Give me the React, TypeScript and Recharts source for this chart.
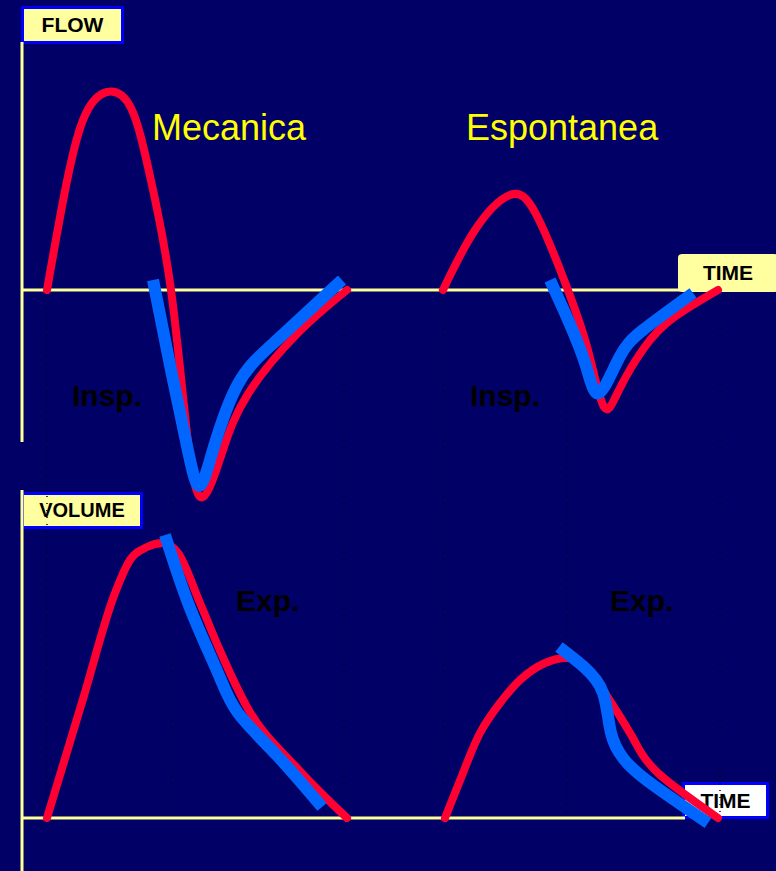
import { Line, LineChart, ReferenceLine, XAxis, YAxis } from "recharts"

// time in seconds, flow in L/s, volume in L
const mechFlowRed = [
  { t: 0, f: 0 },
  { t: 0.085, f: 0.47 },
  { t: 0.18, f: 0.85 },
  { t: 0.3, f: 0.99 },
  { t: 0.42, f: 0.91 },
  { t: 0.515, f: 0.57 },
  { t: 0.62, f: 0 },
  { t: 0.705, f: -0.76 },
  { t: 0.78, f: -1.035 },
  { t: 0.88, f: -0.8 },
  { t: 1.005, f: -0.52 },
  { t: 1.25, f: -0.22 },
  { t: 1.5, f: 0 },
]

const mechFlowBlue = [
  { t: 0.53, f: 0.05 },
  { t: 0.62, f: -0.4 },
  { t: 0.7, f: -0.78 },
  { t: 0.76, f: -0.98 },
  { t: 0.83, f: -0.8 },
  { t: 0.955, f: -0.47 },
  { t: 1.15, f: -0.25 },
  { t: 1.475, f: 0.05 },
]

const spontFlowRed = [
  { t: 1.98, f: 0 },
  { t: 2.14, f: 0.3 },
  { t: 2.315, f: 0.475 },
  { t: 2.45, f: 0.37 },
  { t: 2.61, f: -0.015 },
  { t: 2.71, f: -0.32 },
  { t: 2.785, f: -0.585 },
  { t: 2.86, f: -0.5 },
  { t: 2.985, f: -0.29 },
  { t: 3.13, f: -0.14 },
  { t: 3.355, f: 0 },
]

const spontFlowBlue = [
  { t: 2.515, f: 0.05 },
  { t: 2.61, f: -0.16 },
  { t: 2.695, f: -0.38 },
  { t: 2.76, f: -0.515 },
  { t: 2.86, f: -0.34 },
  { t: 2.98, f: -0.2 },
  { t: 3.23, f: -0.015 },
]

const mechVolRed = [
  { t: 0, v: 0 },
  { t: 0.18, v: 0.238 },
  { t: 0.34, v: 0.45 },
  { t: 0.415, v: 0.516 },
  { t: 0.5, v: 0.542 },
  { t: 0.58, v: 0.55 },
  { t: 0.655, v: 0.53 },
  { t: 0.765, v: 0.43 },
  { t: 0.87, v: 0.33 },
  { t: 1.0, v: 0.222 },
  { t: 1.25, v: 0.1 },
  { t: 1.5, v: 0 },
]

const mechVolBlue = [
  { t: 0.59, v: 0.566 },
  { t: 0.715, v: 0.42 },
  { t: 0.855, v: 0.29 },
  { t: 0.955, v: 0.21 },
  { t: 1.15, v: 0.125 },
  { t: 1.375, v: 0.022 },
]

const spontVolRed = [
  { t: 1.99, v: 0 },
  { t: 2.08, v: 0.09 },
  { t: 2.165, v: 0.17 },
  { t: 2.265, v: 0.23 },
  { t: 2.365, v: 0.276 },
  { t: 2.49, v: 0.31 },
  { t: 2.61, v: 0.32 },
  { t: 2.71, v: 0.296 },
  { t: 2.835, v: 0.222 },
  { t: 2.935, v: 0.156 },
  { t: 3.055, v: 0.09 },
  { t: 3.355, v: 0 },
]

const spontVolBlue = [
  { t: 2.56, v: 0.342 },
  { t: 2.685, v: 0.302 },
  { t: 2.78, v: 0.25 },
  { t: 2.82, v: 0.17 },
  { t: 2.88, v: 0.12 },
  { t: 3.0, v: 0.075 },
  { t: 3.305, v: -0.01 },
]

// phase markers (dotted guides)
const phaseTimes = [0, 0.62, 1.485, 1.98, 2.6, 3.365]

const RED = "#ff0033"
const BLUE = "#0066ff"
const AXIS = "#ffff99"
const BG = "#000066"

const box = (extra: React.CSSProperties): React.CSSProperties => ({
  position: "absolute",
  boxSizing: "border-box",
  display: "flex",
  alignItems: "center",
  justifyContent: "center",
  fontFamily: "Liberation Sans, Arial, sans-serif",
  fontWeight: "bold",
  fontSize: 21,
  color: "#000",
  ...extra,
})

const label = (left: number, top: number, text: string, style: React.CSSProperties) => (
  <div
    style={{
      position: "absolute",
      left,
      top,
      fontFamily: "Liberation Sans, Arial, sans-serif",
      whiteSpace: "nowrap",
      lineHeight: 1,
      ...style,
    }}
  >
    {text}
  </div>
)

export default function App() {
  const yellowTxt = { color: "#ffff00", fontSize: 36 }
  const blackTxt = { color: "#000", fontSize: 30, fontWeight: "bold" as const }
  const red = { stroke: RED, strokeWidth: 8, strokeLinecap: "round" as const, dot: false, activeDot: false, isAnimationActive: false }
  const blue = { stroke: BLUE, strokeWidth: 12, dot: false, activeDot: false, isAnimationActive: false }
  return (
    <div style={{ position: "absolute", left: 0, top: 0, width: 776, height: 871, background: BG, overflow: "hidden" }}>
      <div style={box({ left: 21, top: 6, width: 103, height: 38, background: "#ffffa0", border: "3px solid #0000ff" })}>FLOW</div>
      <div style={box({ left: 21, top: 492, width: 122, height: 37, background: "#ffffa0", border: "3px solid #0000ff", fontSize: 20 })}>VOLUME</div>
      <div style={box({ left: 678, top: 254, width: 100, height: 38, background: "#ffffa0", borderRadius: 4 })}>TIME</div>
      <div style={box({ left: 682, top: 782, width: 87, height: 37, background: "#ffffff", border: "3px solid #0000ff" })}>TIME</div>

      {label(152, 110, "Mecanica", yellowTxt)}
      {label(466, 110, "Espontanea", yellowTxt)}
      {label(72, 381, "Insp.", blackTxt)}
      {label(470, 381, "Insp.", blackTxt)}
      {label(236, 586, "Exp.", blackTxt)}
      {label(610, 586, "Exp.", blackTxt)}

      <div style={{ position: "absolute", left: 0, top: 0 }}>
        <LineChart width={776} height={871} margin={{ top: 0, right: 0, bottom: 0, left: 0 }}>
          <XAxis dataKey="t" type="number" domain={[-0.235, 3.645]} hide allowDataOverflow />
          <YAxis yAxisId="flow" type="number" domain={[-2.905, 1.45]} hide allowDataOverflow />
          <YAxis yAxisId="vol" type="number" domain={[-0.106, 1.636]} hide allowDataOverflow />

          {phaseTimes.map((t) => (
            <ReferenceLine
              key={t}
              yAxisId="flow"
              segment={[{ x: t, y: -0.05 }, { x: t, y: -2.64 }]}
              stroke="#000022"
              strokeWidth={1.5}
              strokeDasharray="1 6"
            />
          ))}

          <ReferenceLine yAxisId="flow" segment={[{ x: -0.125, y: 1.24 }, { x: -0.125, y: -0.76 }]} stroke={AXIS} strokeWidth={3} />
          <ReferenceLine yAxisId="flow" segment={[{ x: -0.125, y: 0 }, { x: 3.165, y: 0 }]} stroke={AXIS} strokeWidth={3} />
          <ReferenceLine yAxisId="vol" segment={[{ x: -0.125, y: 0.656 }, { x: -0.125, y: -0.106 }]} stroke={AXIS} strokeWidth={3} />
          <ReferenceLine yAxisId="vol" segment={[{ x: -0.125, y: 0 }, { x: 3.19, y: 0 }]} stroke={AXIS} strokeWidth={3} />

          <Line yAxisId="flow" data={mechFlowRed} dataKey="f" type="natural" {...red} />
          <Line yAxisId="flow" data={spontFlowRed} dataKey="f" type="natural" {...red} />
          <Line yAxisId="vol" data={mechVolRed} dataKey="v" type="monotone" {...red} />
          <Line yAxisId="vol" data={spontVolRed} dataKey="v" type="natural" {...red} />

          <Line yAxisId="flow" data={mechFlowBlue} dataKey="f" type="natural" {...blue} />
          <Line yAxisId="flow" data={spontFlowBlue} dataKey="f" type="natural" {...blue} />
          <Line yAxisId="vol" data={mechVolBlue} dataKey="v" type="natural" {...blue} />
          <Line yAxisId="vol" data={spontVolBlue} dataKey="v" type="natural" {...blue} />
        </LineChart>
      </div>
    </div>
  )
}
